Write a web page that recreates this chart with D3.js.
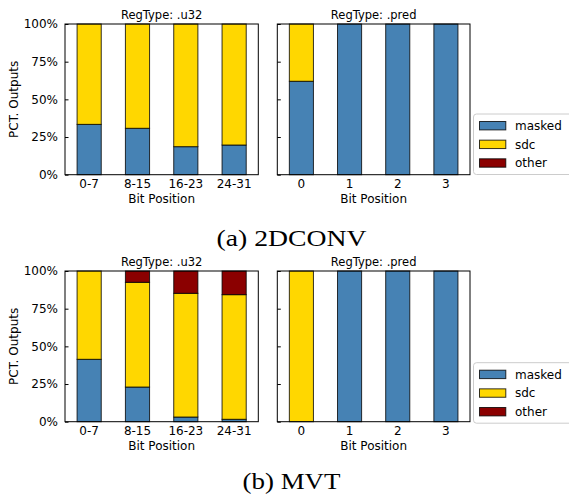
<!DOCTYPE html>
<html>
<head>
<meta charset="utf-8">
<script src="https://cdn.jsdelivr.net/npm/d3@7"></script>
<style>
  html, body { margin: 0; padding: 0; background: #fff; }
  svg { display: block; }
  text { font-family: "DejaVu Sans", sans-serif; fill: #000; }
</style>
</head>
<body>
<svg id="chart" width="569" height="497"></svg>
<script>
// ---- Data ----
const seriesKeys = ["masked", "sdc", "other"];
const seriesColors = ["#4682b4", "#ffd700", "#8b0000"];
const yTickValues = [0, 25, 50, 75, 100];
const yTickLabels = ["0%", "25%", "50%", "75%", "100%"];

const catU32 = ["0-7", "8-15", "16-23", "24-31"];
const catPred = ["0", "1", "2", "3"];

// (a) 2DCONV
const a_u32_masked = [33.4, 30.8, 18.6, 19.7];
const a_u32_sdc    = [66.6, 69.2, 81.4, 80.3];
const a_u32_other  = [0, 0, 0, 0];
const a_pred_masked = [62, 100, 100, 100];
const a_pred_sdc    = [38, 0, 0, 0];
const a_pred_other  = [0, 0, 0, 0];

// (b) MVT
const b_u32_masked = [41.4, 23.0, 3.1, 1.6];
const b_u32_sdc    = [58.6, 69.5, 82.1, 82.7];
const b_u32_other  = [0, 7.5, 14.8, 15.7];
const b_pred_masked = [0, 100, 100, 100];
const b_pred_sdc    = [100, 0, 0, 0];
const b_pred_other  = [0, 0, 0, 0];

const captions = ["(a) 2DCONV", "(b) MVT"];
const panelTitles = ["RegType: .u32", "RegType: .pred"];

// ---- Layout ----
const svg = d3.select("#chart");
const rows = [
  { y0: 24, y1: 174.7, caption: captions[0], capY: 245.7, capW: 150, legendTop: 114,
    panels: [
      { cats: catU32, m: a_u32_masked, s: a_u32_sdc, o: a_u32_other },
      { cats: catPred, m: a_pred_masked, s: a_pred_sdc, o: a_pred_other }
    ] },
  { y0: 271, y1: 421.7, caption: captions[1], capY: 489.3, capW: 98, legendTop: 362.7,
    panels: [
      { cats: catU32, m: b_u32_masked, s: b_u32_sdc, o: b_u32_other },
      { cats: catPred, m: b_pred_masked, s: b_pred_sdc, o: b_pred_other }
    ] }
];
const panelX = [[65, 258.3], [277.3, 470]];

rows.forEach(row => {
  const y = d3.scaleLinear().domain([0, 100]).range([row.y1, row.y0]);
  row.panels.forEach((p, pi) => {
    const [x0, x1] = panelX[pi];
    const x = d3.scaleBand().domain(p.cats).range([x0, x1]).paddingInner(0.5).paddingOuter(0.25);
    const table = p.cats.map((c, i) => ({ cat: c, masked: p.m[i], sdc: p.s[i], other: p.o[i] }));
    const stacked = d3.stack().keys(seriesKeys)(table);
    const g = svg.append("g");

    g.selectAll("g.series").data(stacked).join("g")
      .attr("fill", (d, i) => seriesColors[i])
      .selectAll("rect").data(d => d.filter(v => v[1] - v[0] > 0)).join("rect")
      .attr("x", d => x(d.data.cat))
      .attr("width", x.bandwidth())
      .attr("y", d => y(d[1]))
      .attr("height", d => y(d[0]) - y(d[1]))
      .attr("stroke", "#000")
      .attr("stroke-opacity", 0.8)
      .attr("stroke-width", 1);

    // y axis ticks (inward)
    const yAxis = d3.axisLeft(y).tickValues(yTickValues)
      .tickFormat((d, i) => pi === 0 ? yTickLabels[i] : "")
      .tickSizeInner(-3.5).tickSizeOuter(0).tickPadding(7);
    const ya = g.append("g").attr("transform", `translate(${x0},0)`).call(yAxis);
    ya.select(".domain").remove();
    ya.selectAll("line").attr("stroke", "#000");
    ya.selectAll("text").style("font-size", "12px").attr("font-family", "DejaVu Sans");

    // x axis labels
    const xAxis = d3.axisBottom(x).tickSize(0).tickPadding(5);
    const xa = g.append("g").attr("transform", `translate(0,${row.y1})`).call(xAxis);
    xa.select(".domain").remove();
    xa.selectAll("text").style("font-size", "12px").attr("font-family", "DejaVu Sans");

    // frame
    g.append("rect").attr("x", x0).attr("y", row.y0)
      .attr("width", x1 - x0).attr("height", row.y1 - row.y0)
      .attr("fill", "none").attr("stroke", "#000").attr("stroke-width", 1);

    // title
    g.append("text").attr("x", (x0 + x1) / 2).attr("y", row.y0 - 5)
      .attr("text-anchor", "middle").style("font-size", "11.5px").text(panelTitles[pi]);

    // x label
    g.append("text").attr("x", (x0 + x1) / 2).attr("y", row.y1 + 28.6)
      .attr("text-anchor", "middle").style("font-size", "12px").text("Bit Position");

    if (pi === 0) {
      g.append("text")
        .attr("transform", `translate(17.5,${(row.y0 + row.y1) / 2}) rotate(-90)`)
        .attr("text-anchor", "middle").style("font-size", "12px").text("PCT. Outputs");
    }
  });

  // legend
  const lg = svg.append("g").attr("transform", `translate(473.5,${row.legendTop})`);
  lg.append("rect").attr("x", 0).attr("y", 0).attr("width", 110).attr("height", 60.5)
    .attr("rx", 3).attr("fill", "#fff").attr("fill-opacity", 0.8)
    .attr("stroke", "#ccc").attr("stroke-width", 1);
  seriesKeys.forEach((k, i) => {
    const cy = 11.7 + i * 18.65;
    lg.append("rect").attr("x", 6).attr("y", cy - 4.2).attr("width", 26.3).attr("height", 8.4)
      .attr("fill", seriesColors[i]).attr("stroke", "#000").attr("stroke-opacity", 0.8).attr("stroke-width", 1);
    lg.append("text").attr("x", 41.5).attr("y", cy).attr("dy", "0.35em")
      .style("font-size", "12px").text(k);
  });

  // caption
  svg.append("text").attr("x", 291.5).attr("y", row.capY)
    .attr("text-anchor", "middle")
    .style("font-family", "'Liberation Serif', 'Times New Roman', serif")
    .style("font-size", "23.5px")
    .attr("textLength", row.capW).attr("lengthAdjust", "spacingAndGlyphs")
    .text(row.caption);
});
</script>
</body>
</html>
